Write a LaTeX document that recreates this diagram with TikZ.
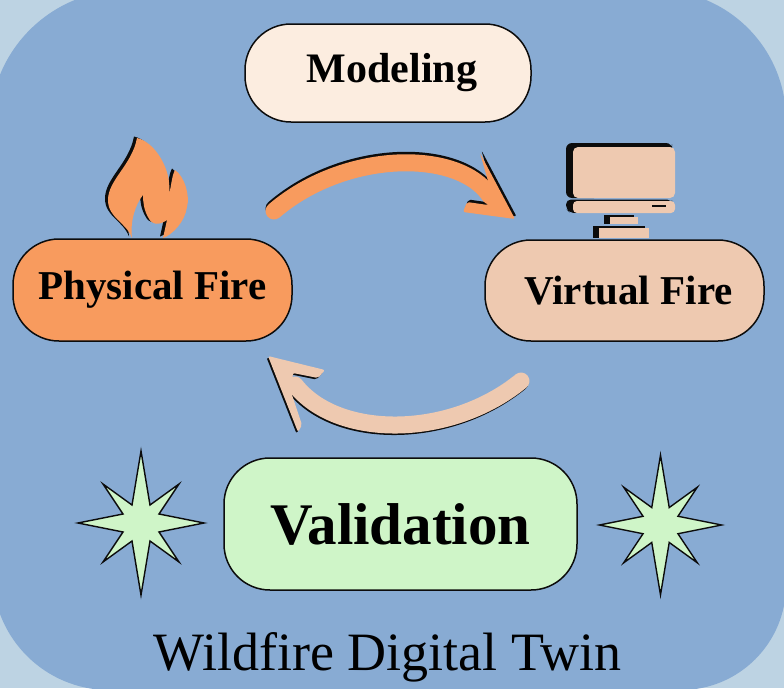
\documentclass[tikz,border=0pt]{standalone}
\usepackage{fontspec}
\setmainfont{Liberation Serif}
\definecolor{outerblue}{HTML}{BDD3E3}
\definecolor{panelblue}{HTML}{88ABD3}
\definecolor{fireorange}{HTML}{F89B5E}
\definecolor{peach}{HTML}{EEC9B0}
\definecolor{cream}{HTML}{FCEDE0}
\definecolor{mint}{HTML}{CFF5C8}
\definecolor{inkblack}{HTML}{0C0C0C}
\tikzset{
  pill/.style={draw=inkblack,line width=1.5pt,rounded corners=46pt,inner sep=0pt,font=\bfseries},
  archbody/.style={line width=17pt,line cap=round},
  sparkle/.pic={
    \draw[draw=inkblack,fill=mint,line width=1.4pt,miter limit=10]
      (0,-72) -- (9,-18) -- (38,-39) -- (18,-9) -- (63,0) -- (18,9) -- (38,39) -- (9,18)
      -- (0,72) -- (-9,18) -- (-38,39) -- (-18,9) -- (-63,0) -- (-18,-9) -- (-38,-39) -- (-9,-18) -- cycle;
  }
}
\begin{document}
\begin{tikzpicture}[x=1pt,y=-1pt]
  \useasboundingbox (0,0) rectangle (784,688);
  % panel
  \fill[outerblue] (0,0) rectangle (784,688);
  \begin{scope}
    \clip (0,0) rectangle (784,688);
    \fill[panelblue] (-10,300) [rounded corners=136pt] -- (-10,-10) [rounded corners=130pt] -- (786,-10)
      [rounded corners=105pt] -- (786,690) [rounded corners=115pt] -- (-6,690) [sharp corners] -- (-10,300) -- cycle;
  \end{scope}

  % flame
  \fill[inkblack,transform canvas={xshift=-3pt,yshift=1.5pt}] (132,238) .. controls (126,222) and (108,218) .. (108,200)
    .. controls (108,180) and (132,165) .. (137,138) .. controls (155,142) and (172,170) .. (169,193)
    .. controls (172,185) and (171,178) .. (175,170) .. controls (185,177) and (190,196) .. (187,207)
    .. controls (185,222) and (172,235) .. (163,238) -- (167,220) .. controls (160,225) and (152,226) .. (148,217)
    .. controls (144,210) and (143,202) .. (143,195) .. controls (135,205) and (130,222) .. (132,238) -- cycle;
  \fill[fireorange] (132,238) .. controls (126,222) and (108,218) .. (108,200)
    .. controls (108,180) and (132,165) .. (137,138) .. controls (155,142) and (172,170) .. (169,193)
    .. controls (172,185) and (171,178) .. (175,170) .. controls (185,177) and (190,196) .. (187,207)
    .. controls (185,222) and (172,235) .. (163,238) -- (167,220) .. controls (160,225) and (152,226) .. (148,217)
    .. controls (144,210) and (143,202) .. (143,195) .. controls (135,205) and (130,222) .. (132,238) -- cycle;

  % monitor
  \fill[inkblack,rounded corners=6pt] (566,198) -- (566,143) -- (672,143) -- (672,150) -- (600,198) -- cycle;
  \fill[peach,rounded corners=5pt] (573,198) -- (573,147) -- (675,147) -- (675,198) -- cycle;
  \fill[inkblack,rounded corners=5pt] (566,199.5) -- (672,199.5) -- (672,205) -- (580,213) -- (570,213) -- (566,209) -- cycle;
  \fill[peach,rounded corners=4pt] (573,201) -- (675,201) -- (675,213) -- (573,213) -- cycle;
  \draw[inkblack,line width=1.5pt] (652,206) -- (666,206);
  \fill[inkblack] (604,215) rectangle (634,224);
  \fill[peach] (610,217) rectangle (638,224);
  \fill[inkblack] (593,226) rectangle (645,238);
  \fill[peach] (599,227.5) rectangle (649,238);

  % nodes
  \node[pill,fill=cream,minimum width=286pt,minimum height=98pt,font=\bfseries\fontsize{42}{42}\selectfont] (modeling) at (388,73) {\hspace*{8pt}Modeling};
  \node[pill,fill=fireorange,minimum width=279pt,minimum height=102pt,font=\bfseries\fontsize{41}{41}\selectfont] (physical) at (152.5,290) {Physical Fire};
  \node[pill,fill=peach,minimum width=279pt,minimum height=101pt,font=\bfseries\fontsize{41}{41}\selectfont] (virtual) at (624.5,290.5) {\hspace*{8pt}Virtual Fire};
  \node[pill,fill=mint,minimum width=353pt,minimum height=132pt,font=\bfseries\fontsize{59}{59}\selectfont] (validation) at (400.5,524) {Validation};
  \node[font=\fontsize{54}{54}\selectfont,inner sep=0pt] (title) at (387.5,657) {Wildfire Digital Twin};

  % modeling arrow
  \coordinate (modelstart) at (274,211);
  \coordinate (modelend) at (490,196);
  \draw[archbody,draw=inkblack,transform canvas={yshift=2.5pt}] (modelstart) .. controls (345,150) and (459,149) .. (modelend);
  \fill[inkblack,rounded corners=2pt,transform canvas={yshift=2.5pt,xshift=1.5pt}] (480,153) -- (515,219) -- (463,212) -- (467,202) -- (488,205) -- (490,188) -- cycle;
  \draw[archbody,draw=fireorange] (modelstart) .. controls (345,150) and (459,149) .. (modelend);
  \fill[fireorange,rounded corners=2pt] (480,153) -- (515,219) -- (463,212) -- (467,202) -- (488,205) -- (490,188) -- cycle;

  % validation arrow
  \coordinate (checkstart) at (521,381);
  \coordinate (checkend) at (295,385);
  \draw[archbody,draw=inkblack,transform canvas={xshift=-1pt,yshift=-1.5pt}] (checkstart) .. controls (450,439) and (337,439) .. (checkend);
  \fill[inkblack,rounded corners=2pt,transform canvas={xshift=-1.5pt,yshift=-1.5pt}] (268,356) -- (325,370) -- (318,378) -- (293,373) -- (291,392) -- (302,425) -- (298,432) -- cycle;
  \draw[archbody,draw=peach] (checkstart) .. controls (450,439) and (337,439) .. (checkend);
  \fill[peach,rounded corners=2pt] (268,356) -- (325,370) -- (318,378) -- (293,373) -- (291,392) -- (302,425) -- (298,432) -- cycle;

  % stars
  \pic (starleft) at (141,523) {sparkle};
  \pic[scale=0.97] (starright) at (660.5,525) {sparkle};
\end{tikzpicture}
\end{document}
